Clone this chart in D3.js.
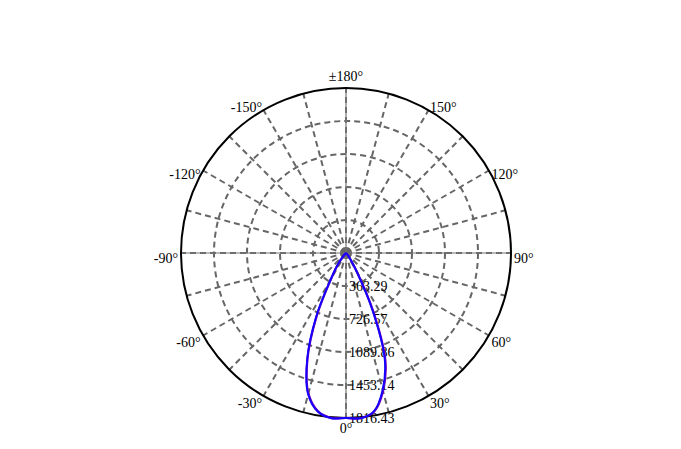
<!DOCTYPE html>
<html>
<head>
<meta charset="utf-8">
<script src="https://cdn.jsdelivr.net/npm/d3@7"></script>
<style>
  body { margin: 0; background: #fff; }
  text { font-family: "Liberation Serif", "Times New Roman", serif; font-size: 14px; fill: #000; }
</style>
</head>
<body>
<svg id="polar-svg"></svg>
<script>
var width = 681;
var height = 449;
var cx = 346;
var cy = 253;
var radius = 165;

// gamma angles (deg), 0 = straight down, 90 = right
var gammaAngles = [-180, -150, -120, -90, -60, -50, -45, -40, -35, -30, -25, -20, -15, -10, -5,
  0, 5, 10, 15, 20, 25, 30, 35, 40, 45, 50, 60, 90, 120, 150, 180];

// luminous intensity (cd) for the two C-planes
var planeC0C180 = [0, 0, 0, 0, 0, 0, 15, 60, 170, 340, 780, 1250, 1610, 1775, 1826,
  1816, 1826, 1770, 1560, 1250, 680, 230, 80, 30, 10, 0, 0, 0, 0, 0, 0];
var planeC90C270 = [0, 0, 0, 0, 0, 0, 12, 55, 160, 330, 760, 1240, 1600, 1770, 1824,
  1816, 1826, 1775, 1575, 1270, 710, 250, 90, 35, 12, 0, 0, 0, 0, 0, 0];

var ringValues = [363.29, 726.57, 1089.86, 1453.14, 1816.43];
var angleTicks = [0, 30, 60, 90, 120, 150, 180, -150, -120, -90, -60, -30];
var angleTickLabels = ["0°", "30°", "60°", "90°", "120°", "150°", "±180°", "-150°", "-120°", "-90°", "-60°", "-30°"];
var spokeStep = 15;

var svg = d3.select("#polar-svg")
    .attr("width", width)
    .attr("height", height);

var rScale = d3.scaleLinear()
    .domain([0, d3.max(ringValues)])
    .range([0, radius]);

// gamma angle -> d3 radial angle (0 at top, clockwise)
function toRad(g) {
  return (180 - g) * Math.PI / 180;
}

var g = svg.append("g")
    .attr("transform", "translate(" + cx + "," + cy + ")");

// dashed rings
g.selectAll(".ring")
  .data(ringValues.slice(0, -1))
  .enter()
  .append("circle")
  .attr("r", function(d) { return rScale(d); })
  .attr("fill", "none")
  .attr("stroke", "#666")
  .attr("stroke-width", 2)
  .attr("stroke-dasharray", "6,4");

// dashed spokes every 15 degrees
g.selectAll(".spoke")
  .data(d3.range(0, 360, spokeStep))
  .enter()
  .append("line")
  .attr("x1", 0)
  .attr("y1", 0)
  .attr("x2", function(d) { return radius * Math.sin(toRad(d)); })
  .attr("y2", function(d) { return -radius * Math.cos(toRad(d)); })
  .attr("stroke", "#666")
  .attr("stroke-width", 2)
  .attr("stroke-dasharray", "6,4");

// the main axes look solid
g.selectAll(".axis")
  .data([0, 90])
  .enter()
  .append("line")
  .attr("x1", function(d) { return -radius * Math.sin(toRad(d)); })
  .attr("y1", function(d) { return radius * Math.cos(toRad(d)); })
  .attr("x2", function(d) { return radius * Math.sin(toRad(d)); })
  .attr("y2", function(d) { return -radius * Math.cos(toRad(d)); })
  .attr("stroke", "#777")
  .attr("stroke-width", 1.2);

// outer circle
g.append("circle")
  .attr("r", radius)
  .attr("fill", "none")
  .attr("stroke", "#000")
  .attr("stroke-width", 2);

// angle labels
g.selectAll(".angle-label")
  .data(angleTicks)
  .enter()
  .append("text")
  .attr("x", function(d) { return (radius + 3) * Math.sin(toRad(d)); })
  .attr("y", function(d) {
    var y = -(radius + 3) * Math.cos(toRad(d));
    if (Math.abs(d) === 180) return y - 4;
    if (Math.abs(d) === 150) return y + 4;
    if (d === 0) return y + 12;
    return y + 10;
  })
  .attr("text-anchor", function(d) {
    if (d === 0 || Math.abs(d) === 180) return "middle";
    return d > 0 ? "start" : "end";
  })
  .text(function(d, i) { return angleTickLabels[i]; });

// ring value labels along the 0 degree spoke
g.selectAll(".ring-label")
  .data(ringValues)
  .enter()
  .append("text")
  .attr("x", 3)
  .attr("y", function(d) { return rScale(d); })
  .attr("dy", "0.35em")
  .text(function(d) { return d.toFixed(2); });

var line = d3.lineRadial()
    .angle(function(d, i) { return toRad(gammaAngles[i]); })
    .radius(function(d) { return rScale(d); })
    .curve(d3.curveCatmullRom);

g.append("path")
  .attr("d", line(planeC90C270))
  .attr("fill", "none")
  .attr("stroke", "#8000b0")
  .attr("stroke-width", 2.2);

g.append("path")
  .attr("d", line(planeC0C180))
  .attr("fill", "none")
  .attr("stroke", "#1500ff")
  .attr("stroke-width", 2);
</script>
</body>
</html>
